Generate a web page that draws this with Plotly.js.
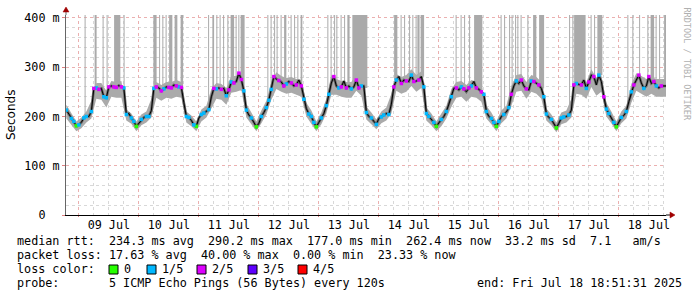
<!DOCTYPE html>
<html><head><meta charset="utf-8">
<script src="https://cdn.plot.ly/plotly-3.0.1.min.js"></script>
<style>html,body{margin:0;padding:0;background:#fff}</style>
</head><body><div id="chart" style="width:697px;height:297px"></div>
<script>
const HOUR = 3600000;
const startTime = Date.UTC(2025,6,8,19,0,0);     // first hourly median sample
const rangeStart = Date.UTC(2025,6,8,18,51,31);
const rangeEnd = Date.UTC(2025,6,18,18,51,31);
const spikeRef = Date.UTC(2025,6,9,0,0,0);       // spike hours are counted from here

// hourly median rtt (ms), rows run 19:00 .. 18:00 next day
const medianA = [213,205,196,190,181,183,188,197,200,200,210,257,258,255,257,240,238,260,262,260,259,263,260,258];
const medianB = [204,206,197,190,180,186,194,198,200,200,212,257,260,258,252,256,260,259,258,264,262,260,259,228];
const medianC = [200,198,192,183,180,197,204,207,211,214,240,257,256,258,255,257,242,254,270,268,271,288,275,252];
const medianD = [213,203,197,188,179,186,200,208,218,233,255,281,276,273,270,262,266,271,268,262,264,274,262,235];
const medianE = [216,205,200,188,179,188,197,206,222,245,268,281,262,258,260,272,258,262,256,260,274,258,262,262];
const medianF = [208,200,197,190,184,196,199,203,206,204,225,260,274,281,267,274,272,271,284,271,272,274,281,260];
const medianG = [206,200,195,188,180,188,194,200,210,225,240,257,258,254,260,256,250,258,262,271,258,255,250,245];
const medianH = [210,200,196,188,180,190,200,204,209,218,245,262,272,267,274,262,256,254,272,271,268,264,257,240];
const medianI = [205,198,194,186,177,186,197,199,200,203,213,264,267,265,264,274,257,270,284,281,264,284,271,240];
const medianJ = [215,206,198,188,179,188,198,202,210,230,250,264,274,284,268,257,262,281,267,271,262,258,262,262,262];

// loss per hourly sample ('.' none, digit = lost pings of 5)
const lossA = "1.1101.11.1212.112.22.21";
const lossB = "1.110.1.11.12.21.22.212.";
const lossC = "11.10.11.1.21.2.1212.221";
const lossD = "1.1.0.1.1112.2.21.2.2.21";
const lossE = ".1110.1.11.2.12.2.1.221.";
const lossF = "1.1.1.11.1.21.2.2.12.2.1";
const lossG = "11.10.1.1.1.2.12.21.2.21";
const lossH = "1.1101.1.12.1.2.2.12.2.1";
const lossI = "1.1.0.11.1.21.2.12.2.1.2";
const lossJ = "11.10.1.1.12.2.1.2.21.2.";

// smoke band (ms), 2-hourly samples at 19,21,23,1,3,5,7,9,11,13,15,17
const smokeLo = [
 196,184,170,176,188,196,236,234,218,240,238,238,
 192,185,170,182,188,198,238,232,238,236,240,238,
 188,180,170,190,198,216,236,234,224,248,250,254,
 198,184,170,186,204,234,256,250,246,248,244,240,
 200,186,170,184,206,244,244,240,238,238,252,242,
 194,184,174,186,192,206,252,246,250,262,250,258,
 192,182,170,180,196,220,238,240,230,240,238,230,
 196,184,170,186,196,222,250,252,236,250,246,236,
 192,182,168,184,188,198,246,244,236,260,242,250,
 200,186,170,186,196,228,252,246,240,246,240,240, 240];
const smokeHi = [
 224,206,190,198,210,232,268,268,252,272,270,272,
 214,206,190,204,210,236,270,264,270,270,274,270,
 210,202,190,214,222,256,268,266,258,282,282,292,
 226,208,190,212,232,270,290,282,278,280,276,274,
 228,212,190,208,236,284,276,272,270,270,286,274,
 220,208,194,210,218,246,286,280,284,296,284,292,
 218,206,190,206,222,256,270,272,264,274,270,264,
 222,208,190,212,222,262,284,286,270,284,280,270,
 216,204,188,208,212,236,280,278,270,296,278,284,
 228,210,190,210,222,266,288,282,276,280,276,276, 276];

// smoke spikes reaching past the top (hours since 09 Jul 00:00)
const spikeStart = [2.3,6.3,9.5,11.1,14.1,17.9,29.8,32.1,33.4,34.7,36.1,38.3,40.7,51.7,53.4,55.0,56.3,57.7,59.4,60.7,62.7,63.8,64.7,75.4,76.7,78.1,79.1,80.7,82.1,84.7,86.1,87.4,88.7,99.4,100.7,102.1,103.0,104.7,106.1,107.4,109.4,126.1,128.7,130.1,132.1,133.4,134.7,135.4,136.7,150.7,152.7,154.1,156.1,158.1,168.7,170.1,172.1,173.1,174.5,175.4,176.7,179.4,181.7,184.1,196.1,197.4,198.1,204.7,206.1,207.4,219.4,221.4,224.1,227.4,228.7,230.7,232.1,234.1];
const spikeEnd   = [2.7,7.1,9.9,11.5,16.6,18.3,31.1,32.5,33.8,35.1,37.4,39.4,41.7,52.1,54.1,55.4,56.7,58.1,59.8,62.1,63.1,64.2,66.3,75.8,77.1,78.5,79.5,81.1,83.0,85.1,86.5,87.8,89.4,99.8,101.1,102.5,103.4,105.1,106.5,108.3,115.4,127.4,129.1,130.5,132.5,133.8,135.1,136.3,138.1,151.1,153.1,154.5,156.5,161.4,169.1,170.5,172.5,173.5,174.9,175.8,177.1,179.8,183.0,186.1,196.5,197.8,202.7,205.1,206.5,209.4,219.8,221.8,224.5,227.8,230.1,231.1,232.5,235.0];

const lossColors = ['#26ff00','#00b8ff','#dd00ff','#5e00ff','#ff0000'];
const lossLabels = ['0','1/5','2/5','3/5','4/5'];

const median = [].concat(medianA,medianB,medianC,medianD,medianE,medianF,medianG,medianH,medianI,medianJ);
const lossStr = lossA+lossB+lossC+lossD+lossE+lossF+lossG+lossH+lossI+lossJ;
const medTimes = median.map((v,i)=>startTime + i*HOUR);
const smokeTimes = smokeLo.map((v,i)=>startTime + i*2*HOUR);

// spikes: bar from the median at that time up past the top
const spX=[], spW=[], spBase=[], spY=[];
spikeStart.forEach((s,i)=>{
  const e = spikeEnd[i];
  spX.push(spikeRef + (s+e)/2*HOUR);
  spW.push((e-s)*HOUR);
  const idx = Math.min(median.length-1, Math.max(0, Math.round((s+e)/2 + 5)));
  spBase.push(median[idx]);
  spY.push(430 - median[idx]);
});

const traces = [];
traces.push({type:'bar', x:spX, y:spY, base:spBase, width:spW, marker:{color:'#aaaaaa', line:{width:0}}, hoverinfo:'skip', showlegend:false});
traces.push({type:'scatter', mode:'lines', x:smokeTimes, y:smokeLo, line:{width:0, color:'#aaaaaa'}, hoverinfo:'skip', showlegend:false});
traces.push({type:'scatter', mode:'lines', x:smokeTimes, y:smokeHi, fill:'tonexty', fillcolor:'#aaaaaa', line:{width:0, color:'#aaaaaa'}, hoverinfo:'skip', showlegend:false});
traces.push({type:'scatter', mode:'lines', x:medTimes, y:median, line:{width:2.6, color:'#666666'}, hoverinfo:'skip', showlegend:false});
traces.push({type:'scatter', mode:'lines', x:medTimes, y:median, line:{width:1, color:'#000'}, hoverinfo:'skip', showlegend:false});
for (let k=0;k<5;k++){
  const xs=[], ys=[];
  for (let i=0;i<lossStr.length;i++){ if (lossStr[i]===String(k)){ xs.push(medTimes[i]); ys.push(median[i]); } }
  traces.push({type:'scatter', mode:'markers', x:xs, y:ys, marker:{symbol:'square', size:3.5, color:lossColors[k], line:{width:0}}, hoverinfo:'skip', showlegend:false});
}

const L=66, T=15, W=600, H=200;
const px = x => (x-L)/W;
const py = y => (T+H-y)/H;
const nb = s => s.replace(/ /g,'\u00a0');
const mono = {family:'DejaVu Sans Mono', size:11.75, color:'#000'};

const textLines = [
  {t:"median rtt:  234.3 ms avg  290.2 ms max  177.0 ms min  262.4 ms now  33.2 ms sd  7.1   am/s", x:16, y:241},
  {t:"packet loss: 17.63 % avg  40.00 % max  0.00 % min  23.33 % now", x:16, y:255},
  {t:"loss color:", x:16, y:269},
  {t:"probe:       5 ICMP Echo Pings (56 Bytes) every 120s", x:16, y:283},
  {t:"end: Fri Jul 18 18:51:31 2025", x:476, y:283}
];
const boxLeft = [109,147,197,248,298];
const annotations = textLines.map(o=>({xref:'paper', yref:'paper', x:px(o.x), y:py(o.y), xanchor:'left', yanchor:'middle', text:nb(o.t), showarrow:false, font:mono, borderpad:0}));
const shapes = [];
lossLabels.forEach((lab,k)=>{
  annotations.push({xref:'paper', yref:'paper', x:px(boxLeft[k]+14), y:py(269), xanchor:'left', yanchor:'middle', text:lab, showarrow:false, font:mono, borderpad:0});
  shapes.push({type:'rect', xref:'paper', yref:'paper', x0:px(boxLeft[k]), x1:px(boxLeft[k]+9), y0:py(274), y1:py(265), fillcolor:lossColors[k], line:{color:'#000', width:1}});
});
annotations.push({xref:'paper', yref:'paper', x:px(11), y:py(115), xanchor:'center', yanchor:'middle', textangle:-90, text:'Seconds', showarrow:false, font:{family:'DejaVu Sans', size:12, color:'#000'}});
annotations.push({xref:'paper', yref:'paper', x:px(686), y:py(5), xanchor:'center', yanchor:'top', textangle:90, text:nb('RRDTOOL / TOBI OETIKER'), showarrow:false, font:{family:'DejaVu Sans Mono', size:8.5, color:'#b0b0b0'}});

// axis arrows and extensions
shapes.push({type:'line', xref:'paper', yref:'paper', x0:px(666), x1:px(671), y0:0, y1:0, line:{color:'#000', width:1}});
shapes.push({type:'line', xref:'paper', yref:'paper', x0:0, x1:0, y0:1, y1:py(11), line:{color:'#666', width:1}});
shapes.push({type:'path', xref:'paper', yref:'paper', path:`M ${px(670)} ${py(212)} L ${px(675)} ${py(215)} L ${px(670)} ${py(218)} Z`, fillcolor:'#a00000', line:{color:'#a00000', width:0.5}});
shapes.push({type:'path', xref:'paper', yref:'paper', path:`M ${px(63)} ${py(12)} L ${px(66)} ${py(7)} L ${px(69)} ${py(12)} Z`, fillcolor:'#a00000', line:{color:'#a00000', width:0.5}});

const layout = {
  width:697, height:297,
  margin:{l:L, r:697-L-W, t:T, b:297-T-H, pad:0},
  paper_bgcolor:'#fff', plot_bgcolor:'#fff',
  showlegend:false, barmode:'overlay',
  xaxis:{type:'date', range:[rangeStart, rangeEnd], tick0:'2025-07-09', dtick:86400000,
    ticklabelmode:'period', tickformat:'%d %b', tickfont:mono,
    ticks:'outside', ticklen:1, tickcolor:'#e08080', ticklabelstandoff:-2,
    showgrid:true, gridcolor:'#ebb0b0', griddash:'dot', gridwidth:1,
    minor:{tick0:'2025-07-09', dtick:6*HOUR, showgrid:true, gridcolor:'#d8d8d8', griddash:'dot', ticks:''},
    showline:true, linecolor:'#000', linewidth:1, zeroline:false, automargin:false, fixedrange:true},
  yaxis:{range:[0,406], tickmode:'array', tickvals:[0,100,200,300,400],
    ticktext:[nb('0  '),nb('100 m'),nb('200 m'),nb('300 m'),nb('400 m')], tickfont:mono,
    ticks:'outside', ticklen:3, tickcolor:'#e08080',
    showgrid:true, gridcolor:'#ebb0b0', griddash:'dot', gridwidth:1,
    minor:{tick0:0, dtick:20, showgrid:true, gridcolor:'#d8d8d8', griddash:'dot', ticks:''},
    showline:true, linecolor:'#666', linewidth:1, zeroline:false, automargin:false, fixedrange:true},
  annotations:annotations, shapes:shapes
};
Plotly.newPlot('chart', traces, layout, {staticPlot:true, displayModeBar:false});
</script></body></html>
